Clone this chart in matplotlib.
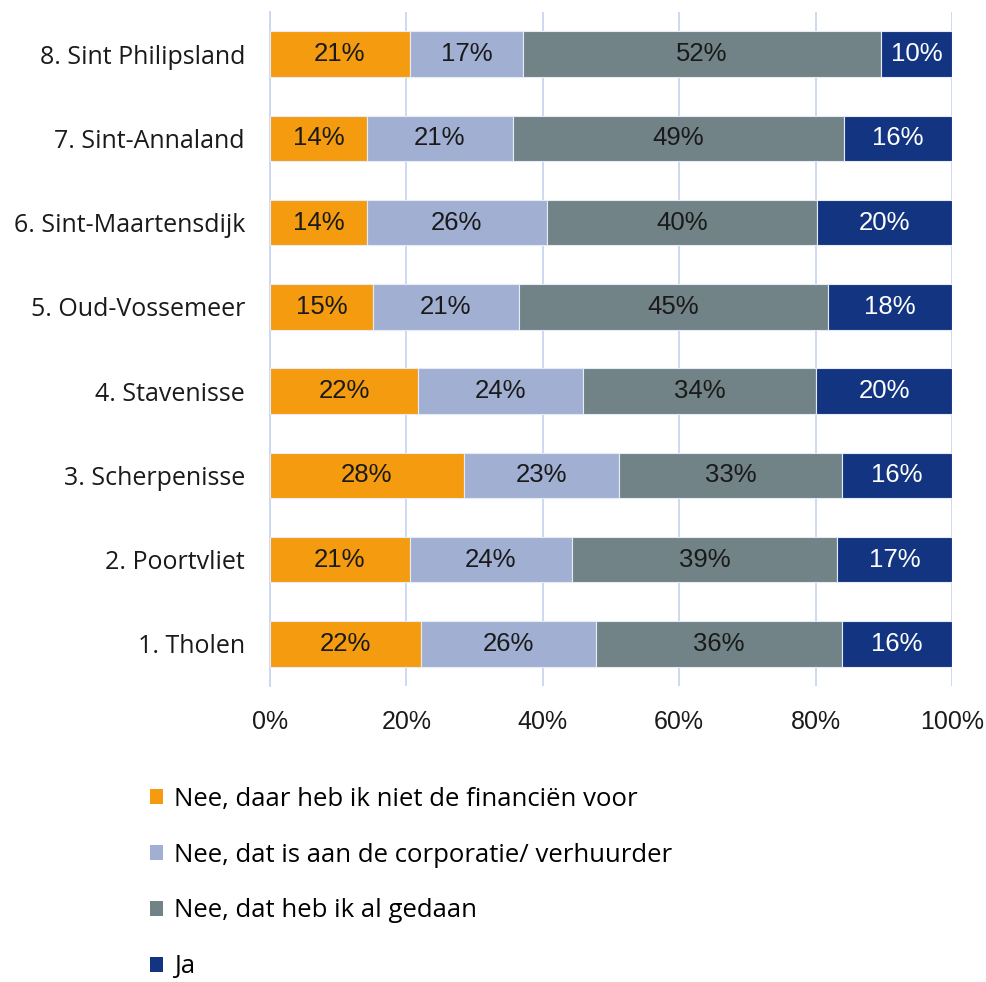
import matplotlib
matplotlib.use("Agg")
import matplotlib.pyplot as plt
from matplotlib.patches import Patch
import numpy as np

categories = ["1. Tholen", "2. Poortvliet", "3. Scherpenisse", "4. Stavenisse",
              "5. Oud-Vossemeer", "6. Sint-Maartensdijk", "7. Sint-Annaland", "8. Sint Philipsland"]
series_names = ["Nee, daar heb ik niet de financiën voor",
                "Nee, dat is aan de corporatie/ verhuurder",
                "Nee, dat heb ik al gedaan",
                "Ja"]
financien = [22.1, 20.5, 28.4, 21.7, 15.1, 14.2, 14.2, 20.5]
corporatie = [25.7, 23.8, 22.8, 24.2, 21.4, 26.4, 21.4, 16.6]
gedaan = [36.1, 38.8, 32.7, 34.2, 45.3, 39.6, 48.6, 52.5]
ja = [16.1, 16.9, 16.1, 19.9, 18.2, 19.8, 15.8, 10.4]
labels_fin = [22, 21, 28, 22, 15, 14, 14, 21]
labels_cor = [26, 24, 23, 24, 21, 26, 21, 17]
labels_ged = [36, 39, 33, 34, 45, 40, 49, 52]
labels_ja = [16, 17, 16, 20, 18, 20, 16, 10]
xticks = [0, 20, 40, 60, 80, 100]

colors = ["#F49B10", "#A1B0D2", "#718387", "#133581"]
text_colors = ["#1a1a1a", "#1a1a1a", "#1a1a1a", "white"]

fig = plt.figure(figsize=(9.87, 9.82), dpi=100)
ax = fig.add_axes([270/987, 1-686/982, (952-270)/987, (686-12)/982])

y = np.arange(len(categories))
left = np.zeros(len(categories))
series = [financien, corporatie, gedaan, ja]
lbls = [labels_fin, labels_cor, labels_ged, labels_ja]
for vals, lab, c, tc in zip(series, lbls, colors, text_colors):
    vals = np.array(vals)
    ax.barh(y, vals, left=left, height=0.54, color=c, edgecolor="#e6ecf7", linewidth=0.8, zorder=3)
    for yi, l, v, lv in zip(y, left, vals, lab):
        ax.text(l + v/2, yi, f"{lv}%", ha="center", va="center", color=tc,
                fontsize=18.5, family="Liberation Sans", zorder=4)
    left += vals

ax.set_xlim(0, 100)
ax.set_ylim(-0.5, len(categories) - 0.5)
ax.set_xticks(xticks)
ax.set_xticklabels([f"{t}%" for t in xticks], fontsize=18, family="Liberation Sans", color="#1a1a1a")
ax.set_yticks(y)
ax.set_yticklabels(categories, fontsize=18, family="Open Sans", color="#1a1a1a")
ax.tick_params(axis="both", length=0)
ax.tick_params(axis="x", pad=17)
ax.tick_params(axis="y", pad=18)
ax.grid(axis="x", color="#c9d6f1", linewidth=1.3, zorder=0)
for s in ["top", "right", "bottom"]:
    ax.spines[s].set_visible(False)
ax.spines["left"].set_color("#c9d6f1")
ax.spines["left"].set_linewidth(1.3)

handles = [Patch(facecolor=c, edgecolor="none") for c in colors]
fig.legend(handles, series_names, loc="center left", bbox_to_anchor=(150/987, 1-883/982),
           frameon=False, prop={"family": "Open Sans", "size": 18.5},
           handlelength=0.52, handleheight=0.52, handletextpad=0.4, labelspacing=1.2,
           borderaxespad=0, borderpad=0)

fig.savefig("out.png", dpi=100, facecolor="white")
